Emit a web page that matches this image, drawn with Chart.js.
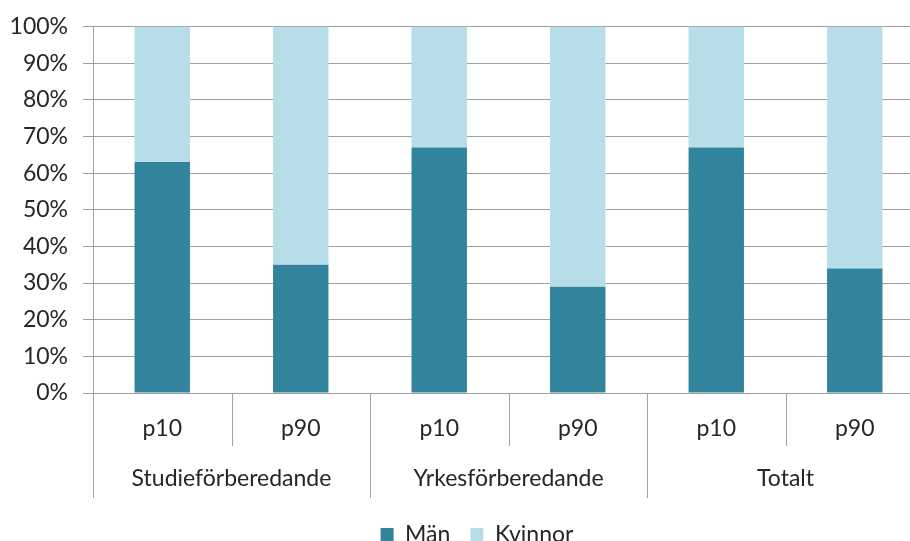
<!DOCTYPE html>
<html>
<head>
<meta charset="utf-8">
<script src="https://cdn.jsdelivr.net/npm/chart.js@4/dist/chart.umd.min.js"></script>
<style>
    html, body { margin: 0; padding: 0; background: #fff; overflow: hidden; }
    #wrap { width: 925px; height: 556px; position: relative; }
</style>
</head>
<body>
<div id="wrap"><canvas id="chart"></canvas></div>
<script>
const categories = ['p10', 'p90', 'p10', 'p90', 'p10', 'p90'];
const groups = ['Studieförberedande', 'Yrkesförberedande', 'Totalt'];
const manValues = [63, 35, 67, 29, 67, 34];
const kvinnorValues = [37, 65, 33, 71, 33, 66];

const FONT = 'Lato, "Open Sans", sans-serif';
const FSIZE = 23;
const TEXT = '#262626';
const GRID = '#a0a0a0';

// separators and group labels under the axis
const groupAxis = {
    id: 'groupAxis',
    afterLayout: (chart) => {
        // legend sits a bit right of centre in the original
        chart.legend.left += 15;
        chart.legend.right += 15;
    },
    afterDraw: (chart) => {
        const ctx = chart.ctx;
        const x = chart.scales.x;
        const base = chart.chartArea.bottom;
        const half = (x.getPixelForValue(1) - x.getPixelForValue(0)) / 2;
        const per = categories.length / groups.length;

        ctx.save();
        ctx.strokeStyle = GRID;
        ctx.lineWidth = 1;
        for (let i = 0; i <= categories.length; i++) {
            const px = Math.round(x.getPixelForValue(0) - half + i * 2 * half) + 0.5;
            const len = i % per === 0 ? 105 : 53;
            ctx.beginPath();
            ctx.moveTo(px, base);
            ctx.lineTo(px, base + len);
            ctx.stroke();
        }

        ctx.fillStyle = TEXT;
        ctx.font = FSIZE + 'px ' + FONT;
        ctx.textAlign = 'center';
        ctx.textBaseline = 'middle';
        groups.forEach((g, gi) => {
            const a = x.getPixelForValue(gi * per);
            const b = x.getPixelForValue(gi * per + per - 1);
            ctx.fillText(g, (a + b) / 2, base + 86);
        });
        ctx.restore();
    }
};

new Chart(document.getElementById('chart'), {
    type: 'bar',
    data: {
        labels: categories,
        datasets: [
            { label: 'Män', data: manValues, backgroundColor: '#31849b' },
            { label: 'Kvinnor', data: kvinnorValues, backgroundColor: '#b7dee8' }
        ]
    },
    options: {
        responsive: true,
        maintainAspectRatio: false,
        animation: false,
        layout: { padding: { top: 26, right: 1, left: 0, bottom: 0 } },
        datasets: { bar: { barPercentage: 0.4, categoryPercentage: 1 } },
        scales: {
            x: {
                stacked: true,
                grid: { display: false, drawTicks: false },
                border: { display: false },
                ticks: { color: TEXT, font: { family: FONT, size: FSIZE }, padding: 22, maxRotation: 0 },
                afterFit: (s) => { s.height = 110; }
            },
            y: {
                stacked: true,
                min: 0,
                max: 100,
                grid: { color: GRID, tickLength: 10 },
                border: { display: true, color: GRID },
                ticks: {
                    stepSize: 10,
                    color: TEXT,
                    padding: 15,
                    font: { family: FONT, size: FSIZE, lineHeight: 1 },
                    callback: (v) => v + '%'
                },
                afterFit: (s) => { s.width = 93; }
            }
        },
        plugins: {
            legend: {
                position: 'bottom',
                labels: {
                    boxWidth: 13,
                    boxHeight: 13,
                    padding: 20,
                    color: TEXT,
                    font: { family: FONT, size: FSIZE }
                }
            },
            tooltip: { enabled: false }
        }
    },
    plugins: [groupAxis]
});
</script>
</body>
</html>
